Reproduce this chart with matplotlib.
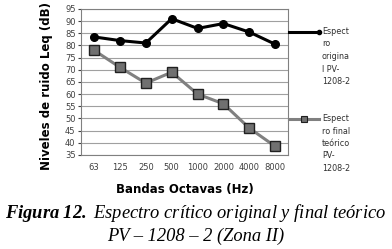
import numpy as np
import matplotlib
matplotlib.use("Agg")
import matplotlib.pyplot as plt
from matplotlib.lines import Line2D

# datos
bandas = ["63", "125", "250", "500", "1000", "2000", "4000", "8000"]
original = [83.5, 82, 81, 91, 87, 89, 85.5, 80.5]
final = [78, 71, 64.5, 69, 60, 56, 46, 38.5]

plt.rcParams["mathtext.fontset"] = "custom"
plt.rcParams["mathtext.rm"] = "Liberation Serif:italic"
plt.rcParams["mathtext.it"] = "Liberation Serif:italic"
plt.rcParams["mathtext.bf"] = "Liberation Serif:italic:bold"

fig = plt.figure(figsize=(3.92, 2.49), dpi=100)
ax = fig.add_axes([0.207, 0.378, 0.528, 0.586])

x = np.arange(len(bandas))
ax.plot(x, original, color="black", lw=2.2, marker="o", ms=5.5, zorder=3)
ax.plot(x, final, color="#808080", lw=2.2, marker="s", ms=7,
        mfc="#707070", mec="#202020", mew=1, zorder=3)

ax.set_xlim(-0.5, len(bandas) - 0.5)
ax.set_ylim(35, 95)
ax.set_yticks(np.arange(35, 96, 5))
ax.set_xticks(x)
ax.set_xticklabels(bandas)
ax.yaxis.grid(True, color="#a0a0a0", lw=0.8)
ax.set_axisbelow(True)
for s in ax.spines.values():
    s.set_color("#808080")
ax.tick_params(axis="x", length=0, labelsize=6, pad=6, colors="#404040")
ax.tick_params(axis="y", length=2, labelsize=6, pad=2, colors="#404040")

ax.set_ylabel("Niveles de ruido Leq (dB)", fontsize=8.5, fontweight="bold")
ax.yaxis.set_label_coords(-0.135, 0.47)
ax.set_xlabel("Bandas Octavas (Hz)", fontsize=8.5, fontweight="bold", labelpad=8)

# leyenda a mano
fig.add_artist(Line2D([289/392, 319/392], [1-32/249, 1-32/249], color="black", lw=2.2,
                      marker="o", ms=3, markevery=[1], transform=fig.transFigure))
fig.add_artist(Line2D([289/392, 319/392], [1-119/249, 1-119/249], color="#808080", lw=2.2,
                      transform=fig.transFigure))
fig.add_artist(Line2D([304/392], [1-119/249], marker="s", ms=4, mfc="#707070",
                      mec="#202020", mew=0.8, transform=fig.transFigure))
fig.text(322/392, 1-27/249, "Espect\nro\norigina\nl PV-\n1208-2", fontsize=5.8,
         va="top", ha="left", linespacing=1.5, color="#303030")
fig.text(322/392, 1-114/249, "Espect\nro final\nteórico\nPV-\n1208-2", fontsize=5.8,
         va="top", ha="left", linespacing=1.5, color="#303030")

# pie de figura
fig.text(0.5, 1-213/249, r"$\bf{Figura\ 12.}$ Espectro crítico original y final teórico",
         family="Liberation Serif", style="italic", fontsize=13.3, ha="center", va="center")
fig.text(0.5, 1-236/249, "PV – 1208 – 2 (Zona II)", family="Liberation Serif",
         style="italic", fontsize=13.3, ha="center", va="center")

plt.savefig("out.png", dpi=100)
